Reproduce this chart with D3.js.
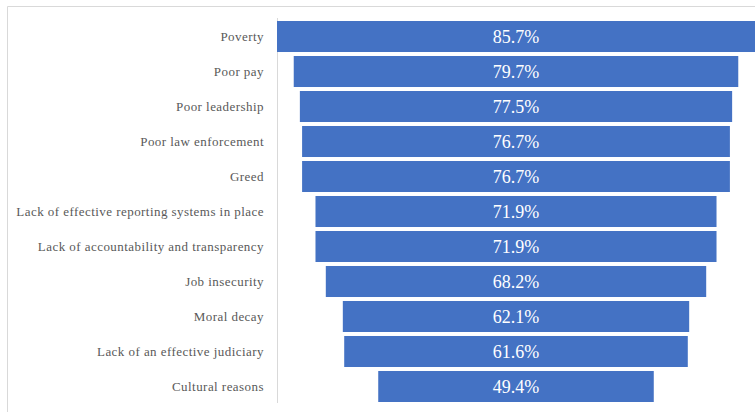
<!DOCTYPE html>
<html><head><meta charset="utf-8">
<script src="https://cdn.jsdelivr.net/npm/d3@7"></script>
<style>html,body{margin:0;padding:0;background:#fff;}svg{display:block;}</style>
</head><body>
<svg id="chart" width="755" height="412"></svg>
<script>
const categories = ["Poverty","Poor pay","Poor leadership","Poor law enforcement","Greed","Lack of effective reporting systems in place","Lack of accountability and transparency","Job insecurity","Moral decay","Lack of an effective judiciary","Cultural reasons"];
const values = [85.7,79.7,77.5,76.7,76.7,71.9,71.9,68.2,62.1,61.6,49.4];
const valueLabels = ["85.7%","79.7%","77.5%","76.7%","76.7%","71.9%","71.9%","68.2%","62.1%","61.6%","49.4%"];

const svg = d3.select("#chart");
const W = 755, H = 412;
const serif = "Liberation Serif";

// frame
svg.append("line").attr("x1",7.5).attr("x2",W).attr("y1",6.5).attr("y2",6.5).attr("stroke","#d9d9d9");
svg.append("line").attr("x1",7.5).attr("x2",7.5).attr("y1",6.5).attr("y2",H).attr("stroke","#d9d9d9");

const maxV = d3.max(values);
const x = d3.scaleLinear().domain([-maxV/2, maxV/2]).range([277, 755]);
const y = d3.scaleBand().domain(categories).range([21, 402]).paddingInner(0.114).paddingOuter(0);

// axis line
svg.append("line").attr("x1",277.5).attr("x2",277.5).attr("y1",18).attr("y2",403).attr("stroke","#d9d9d9");

const data = categories.map((c,i)=>({c, v: values[i], l: valueLabels[i]}));

svg.selectAll("rect.bar").data(data).enter().append("rect")
  .attr("class","bar")
  .attr("x", d => x(-d.v/2))
  .attr("width", d => x(d.v/2) - x(-d.v/2))
  .attr("y", d => y(d.c))
  .attr("height", y.bandwidth())
  .attr("fill", "#4472c4");

svg.selectAll("text.val").data(data).enter().append("text")
  .attr("class","val")
  .attr("x", x(0))
  .attr("y", d => y(d.c) + y.bandwidth()/2)
  .attr("dy","0.35em")
  .attr("text-anchor","middle")
  .attr("fill","#ffffff")
  .attr("font-family", serif)
  .attr("font-size", "18px")
  .text(d => d.l);

svg.selectAll("text.cat").data(data).enter().append("text")
  .attr("class","cat")
  .attr("x", 264)
  .attr("y", d => y(d.c) + y.bandwidth()/2)
  .attr("dy","0.35em")
  .attr("text-anchor","end")
  .attr("fill","#595959")
  .attr("font-family", serif)
  .attr("font-size", "13px")
  .attr("letter-spacing", "0.45px")
  .text(d => d.c);
</script>
</body></html>
